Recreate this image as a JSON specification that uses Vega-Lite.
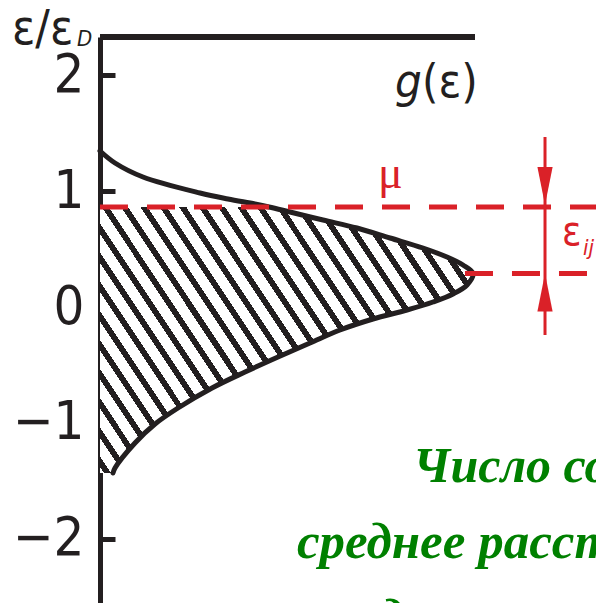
{
  "$schema": "https://vega.github.io/schema/vega-lite/v6.json",
  "width": 496,
  "height": 566,
  "autosize": "none",
  "padding": {"left": 100, "top": 37, "right": 0, "bottom": 0},
  "background": "white",
  "config": {
    "view": {"stroke": null},
    "axisY": {
      "grid": false,
      "domainColor": "#231f20",
      "domainWidth": 5,
      "tickColor": "#231f20",
      "tickWidth": 5,
      "tickSize": -15,
      "labelPadding": 31,
      "labelFont": "Liberation Sans Narrow, DejaVu Sans Condensed, sans-serif",
      "labelFontSize": 54,
      "labelColor": "#231f20"
    }
  },
  "data": {"values": [{}]},
  "datasets": {
    "curve": [
      {"g": 0.0, "e": 1.3472},
      {"g": 0.04, "e": 1.2435},
      {"g": 0.1147, "e": 1.1226},
      {"g": 0.2667, "e": 0.9845},
      {"g": 0.3413, "e": 0.9326},
      {"g": 0.4133, "e": 0.8895},
      {"g": 0.4507, "e": 0.864},
      {"g": 0.5067, "e": 0.8204},
      {"g": 0.5947, "e": 0.7513},
      {"g": 0.6853, "e": 0.6822},
      {"g": 0.7733, "e": 0.5959},
      {"g": 0.8613, "e": 0.5095},
      {"g": 0.9253, "e": 0.4318},
      {"g": 0.968, "e": 0.3627},
      {"g": 0.9947, "e": 0.2893},
      {"g": 0.9787, "e": 0.19},
      {"g": 0.9413, "e": 0.1123},
      {"g": 0.888, "e": 0.0432},
      {"g": 0.8187, "e": -0.0259},
      {"g": 0.728, "e": -0.1036},
      {"g": 0.64, "e": -0.1986},
      {"g": 0.56, "e": -0.3109},
      {"g": 0.4747, "e": -0.4318},
      {"g": 0.3867, "e": -0.5613},
      {"g": 0.2987, "e": -0.6995},
      {"g": 0.208, "e": -0.8722},
      {"g": 0.1467, "e": -1.0104},
      {"g": 0.0933, "e": -1.1744},
      {"g": 0.04, "e": -1.3903},
      {"g": 0.0347, "e": -1.4335}
    ]
  },
  "layer": [
    {
      "data": {"name": "curve"},
      "transform": [{"filter": "datum.e <= 0.864"}],
      "mark": {
        "type": "area",
        "orient": "horizontal",
        "interpolate": "catmull-rom",
        "fill": {
          "gradient": "linear",
          "x1": 0, "y1": 1, "x2": 1.2035, "y2": 0.4285,
          "stops": [
            {"offset": 0, "color": "#ffffff"},
            {"offset": 0.0072, "color": "#ffffff"}, {"offset": 0.0072, "color": "#231f20"}, {"offset": 0.0200, "color": "#231f20"}, {"offset": 0.0200, "color": "#ffffff"},
            {"offset": 0.0425, "color": "#ffffff"}, {"offset": 0.0425, "color": "#231f20"}, {"offset": 0.0553, "color": "#231f20"}, {"offset": 0.0553, "color": "#ffffff"},
            {"offset": 0.0778, "color": "#ffffff"}, {"offset": 0.0778, "color": "#231f20"}, {"offset": 0.0905, "color": "#231f20"}, {"offset": 0.0905, "color": "#ffffff"},
            {"offset": 0.1130, "color": "#ffffff"}, {"offset": 0.1130, "color": "#231f20"}, {"offset": 0.1258, "color": "#231f20"}, {"offset": 0.1258, "color": "#ffffff"},
            {"offset": 0.1483, "color": "#ffffff"}, {"offset": 0.1483, "color": "#231f20"}, {"offset": 0.1610, "color": "#231f20"}, {"offset": 0.1610, "color": "#ffffff"},
            {"offset": 0.1836, "color": "#ffffff"}, {"offset": 0.1836, "color": "#231f20"}, {"offset": 0.1963, "color": "#231f20"}, {"offset": 0.1963, "color": "#ffffff"},
            {"offset": 0.2189, "color": "#ffffff"}, {"offset": 0.2189, "color": "#231f20"}, {"offset": 0.2316, "color": "#231f20"}, {"offset": 0.2316, "color": "#ffffff"},
            {"offset": 0.2541, "color": "#ffffff"}, {"offset": 0.2541, "color": "#231f20"}, {"offset": 0.2669, "color": "#231f20"}, {"offset": 0.2669, "color": "#ffffff"},
            {"offset": 0.2894, "color": "#ffffff"}, {"offset": 0.2894, "color": "#231f20"}, {"offset": 0.3021, "color": "#231f20"}, {"offset": 0.3021, "color": "#ffffff"},
            {"offset": 0.3247, "color": "#ffffff"}, {"offset": 0.3247, "color": "#231f20"}, {"offset": 0.3374, "color": "#231f20"}, {"offset": 0.3374, "color": "#ffffff"},
            {"offset": 0.3599, "color": "#ffffff"}, {"offset": 0.3599, "color": "#231f20"}, {"offset": 0.3727, "color": "#231f20"}, {"offset": 0.3727, "color": "#ffffff"},
            {"offset": 0.3952, "color": "#ffffff"}, {"offset": 0.3952, "color": "#231f20"}, {"offset": 0.4079, "color": "#231f20"}, {"offset": 0.4079, "color": "#ffffff"},
            {"offset": 0.4305, "color": "#ffffff"}, {"offset": 0.4305, "color": "#231f20"}, {"offset": 0.4432, "color": "#231f20"}, {"offset": 0.4432, "color": "#ffffff"},
            {"offset": 0.4657, "color": "#ffffff"}, {"offset": 0.4657, "color": "#231f20"}, {"offset": 0.4785, "color": "#231f20"}, {"offset": 0.4785, "color": "#ffffff"},
            {"offset": 0.5010, "color": "#ffffff"}, {"offset": 0.5010, "color": "#231f20"}, {"offset": 0.5137, "color": "#231f20"}, {"offset": 0.5137, "color": "#ffffff"},
            {"offset": 0.5363, "color": "#ffffff"}, {"offset": 0.5363, "color": "#231f20"}, {"offset": 0.5490, "color": "#231f20"}, {"offset": 0.5490, "color": "#ffffff"},
            {"offset": 0.5716, "color": "#ffffff"}, {"offset": 0.5716, "color": "#231f20"}, {"offset": 0.5843, "color": "#231f20"}, {"offset": 0.5843, "color": "#ffffff"},
            {"offset": 0.6068, "color": "#ffffff"}, {"offset": 0.6068, "color": "#231f20"}, {"offset": 0.6196, "color": "#231f20"}, {"offset": 0.6196, "color": "#ffffff"},
            {"offset": 0.6421, "color": "#ffffff"}, {"offset": 0.6421, "color": "#231f20"}, {"offset": 0.6548, "color": "#231f20"}, {"offset": 0.6548, "color": "#ffffff"},
            {"offset": 0.6774, "color": "#ffffff"}, {"offset": 0.6774, "color": "#231f20"}, {"offset": 0.6901, "color": "#231f20"}, {"offset": 0.6901, "color": "#ffffff"},
            {"offset": 0.7126, "color": "#ffffff"}, {"offset": 0.7126, "color": "#231f20"}, {"offset": 0.7254, "color": "#231f20"}, {"offset": 0.7254, "color": "#ffffff"},
            {"offset": 0.7479, "color": "#ffffff"}, {"offset": 0.7479, "color": "#231f20"}, {"offset": 0.7606, "color": "#231f20"}, {"offset": 0.7606, "color": "#ffffff"},
            {"offset": 0.7832, "color": "#ffffff"}, {"offset": 0.7832, "color": "#231f20"}, {"offset": 0.7959, "color": "#231f20"}, {"offset": 0.7959, "color": "#ffffff"},
            {"offset": 0.8184, "color": "#ffffff"}, {"offset": 0.8184, "color": "#231f20"}, {"offset": 0.8312, "color": "#231f20"}, {"offset": 0.8312, "color": "#ffffff"},
            {"offset": 0.8537, "color": "#ffffff"}, {"offset": 0.8537, "color": "#231f20"}, {"offset": 0.8664, "color": "#231f20"}, {"offset": 0.8664, "color": "#ffffff"},
            {"offset": 0.8890, "color": "#ffffff"}, {"offset": 0.8890, "color": "#231f20"}, {"offset": 0.9017, "color": "#231f20"}, {"offset": 0.9017, "color": "#ffffff"},
            {"offset": 0.9243, "color": "#ffffff"}, {"offset": 0.9243, "color": "#231f20"}, {"offset": 0.9370, "color": "#231f20"}, {"offset": 0.9370, "color": "#ffffff"},
            {"offset": 0.9595, "color": "#ffffff"}, {"offset": 0.9595, "color": "#231f20"}, {"offset": 0.9723, "color": "#231f20"}, {"offset": 0.9723, "color": "#ffffff"},
            {"offset": 0.9948, "color": "#ffffff"}, {"offset": 0.9948, "color": "#231f20"}, {"offset": 1, "color": "#231f20"}
          ]
        }
      },
      "encoding": {
        "y": {
          "field": "e", "type": "quantitative",
          "scale": {"domain": [-2.5561, 2.3316], "nice": false, "zero": false},
          "axis": {"values": [-2, -1, 0, 1, 2], "format": "d", "title": null}
        },
        "x": {
          "field": "g", "type": "quantitative",
          "scale": {"domain": [0, 1.32267], "nice": false, "zero": false},
          "axis": null
        },
        "x2": {"datum": 0}
      }
    },
    {
      "data": {"name": "curve"},
      "mark": {"type": "line", "interpolate": "catmull-rom", "color": "#231f20", "strokeWidth": 5, "strokeCap": "round"},
      "encoding": {
        "y": {"field": "e", "type": "quantitative"},
        "x": {"field": "g", "type": "quantitative", "axis": null},
        "order": {"field": "e", "type": "quantitative"}
      }
    },
    {
      "mark": {"type": "rule", "color": "#231f20", "strokeWidth": 6},
      "encoding": {
        "x": {"datum": 0, "axis": null},
        "x2": {"datum": 1},
        "y": {"datum": 2.3316}
      }
    },
    {
      "mark": {"type": "rule", "color": "#da2128", "strokeWidth": 5, "strokeDash": [28, 19]},
      "encoding": {
        "x": {"datum": 0, "axis": null},
        "x2": {"datum": 1.32267},
        "y": {"datum": 0.864}
      }
    },
    {
      "mark": {"type": "rule", "color": "#da2128", "strokeWidth": 5, "strokeDash": [28, 19]},
      "encoding": {
        "x": {"datum": 0.9733, "axis": null},
        "x2": {"datum": 1.2987},
        "y": {"datum": 0.2893}
      }
    },
    {
      "mark": {"type": "rule", "color": "#da2128", "strokeWidth": 3},
      "encoding": {
        "x": {"datum": 1.1867, "axis": null},
        "y": {"datum": 1.468},
        "y2": {"datum": -0.2418}
      }
    },
    {
      "mark": {"type": "point", "filled": true, "opacity": 1, "color": "#da2128", "size": 1444, "shape": "M -0.4 -1 L 0.4 -1 L 0 1 Z"},
      "encoding": {
        "x": {"datum": 1.1867, "axis": null},
        "y": {"datum": 1.045}
      }
    },
    {
      "mark": {"type": "point", "filled": true, "opacity": 1, "color": "#da2128", "size": 1444, "shape": "M -0.4 1 L 0.4 1 L 0 -1 Z"},
      "encoding": {
        "x": {"datum": 1.1867, "axis": null},
        "y": {"datum": 0.1252}
      }
    },
    {
      "mark": {"type": "text", "text": "ε/ε", "align": "left", "baseline": "alphabetic", "font": "Liberation Sans Narrow, DejaVu Sans Condensed, sans-serif", "fontSize": 48, "color": "#231f20"},
      "encoding": {"x": {"datum": -0.2347, "axis": null}, "y": {"datum": 2.271}}
    },
    {
      "mark": {"type": "text", "text": "D", "align": "left", "baseline": "alphabetic", "font": "Liberation Sans Narrow, DejaVu Sans Condensed, sans-serif", "fontStyle": "italic", "fontSize": 22, "color": "#231f20"},
      "encoding": {"x": {"datum": -0.0613, "axis": null}, "y": {"datum": 2.2539}}
    },
    {
      "mark": {"type": "text", "text": "g", "align": "left", "baseline": "alphabetic", "font": "Liberation Sans Narrow, DejaVu Sans Condensed, sans-serif", "fontStyle": "italic", "fontSize": 47, "color": "#231f20"},
      "encoding": {"x": {"datum": 0.7867, "axis": null}, "y": {"datum": 1.8135}}
    },
    {
      "mark": {"type": "text", "text": "(ε)", "align": "left", "baseline": "alphabetic", "font": "Liberation Sans Narrow, DejaVu Sans Condensed, sans-serif", "fontSize": 47, "color": "#231f20"},
      "encoding": {"x": {"datum": 0.8587, "axis": null}, "y": {"datum": 1.8135}}
    },
    {
      "mark": {"type": "text", "text": "μ", "align": "left", "baseline": "alphabetic", "font": "Liberation Serif", "fontSize": 46, "color": "#da2128"},
      "encoding": {"x": {"datum": 0.7413, "axis": null}, "y": {"datum": 1.0276}}
    },
    {
      "mark": {"type": "text", "text": "ε", "align": "left", "baseline": "alphabetic", "font": "Liberation Sans Narrow, DejaVu Sans Condensed, sans-serif", "fontSize": 40, "color": "#da2128"},
      "encoding": {"x": {"datum": 1.232, "axis": null}, "y": {"datum": 0.5354}}
    },
    {
      "mark": {"type": "text", "text": "ij", "align": "left", "baseline": "alphabetic", "font": "Liberation Sans Narrow, DejaVu Sans Condensed, sans-serif", "fontStyle": "italic", "fontSize": 22, "color": "#da2128"},
      "encoding": {"x": {"datum": 1.288, "axis": null}, "y": {"datum": 0.449}}
    },
    {
      "mark": {"type": "text", "text": "Число состояний", "align": "left", "baseline": "alphabetic", "font": "Liberation Serif", "fontStyle": "italic", "fontWeight": "bold", "fontSize": 50, "color": "#008000"},
      "encoding": {"x": {"datum": 0.8347, "axis": null}, "y": {"datum": -1.511}}
    },
    {
      "mark": {"type": "text", "text": "среднее расстояние", "align": "left", "baseline": "alphabetic", "font": "Liberation Serif", "fontStyle": "italic", "fontWeight": "bold", "fontSize": 51, "color": "#008000"},
      "encoding": {"x": {"datum": 0.5253, "axis": null}, "y": {"datum": -2.1675}}
    },
    {
      "mark": {"type": "text", "text": "до", "align": "left", "baseline": "alphabetic", "font": "Liberation Serif", "fontStyle": "italic", "fontWeight": "bold", "fontSize": 50, "color": "#008000"},
      "encoding": {"x": {"datum": 0.7467, "axis": null}, "y": {"datum": -2.824}}
    }
  ]
}
